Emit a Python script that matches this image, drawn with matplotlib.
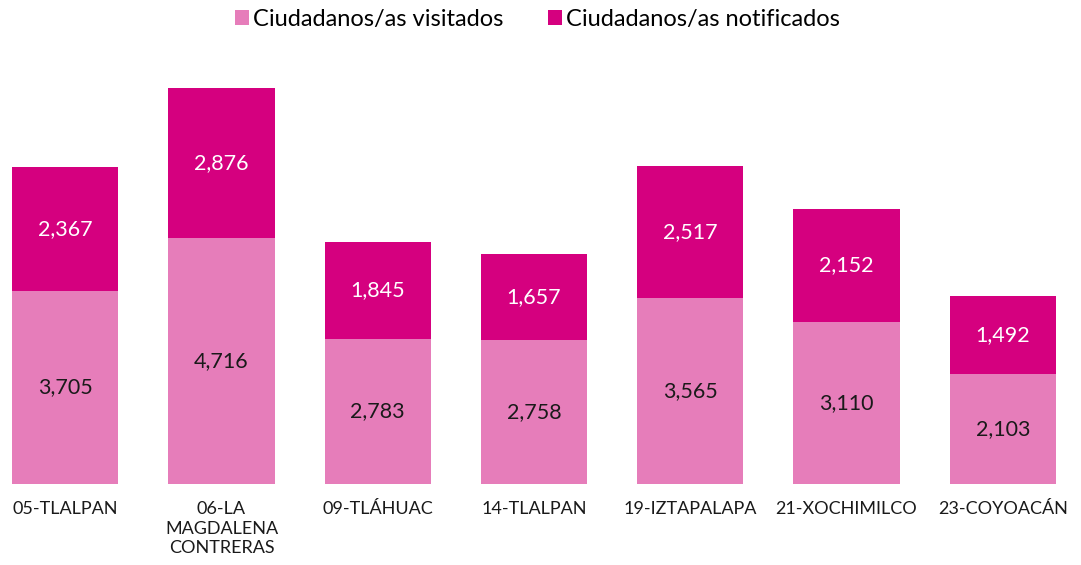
import numpy as np
import matplotlib.pyplot as plt

# datos
categorias = ["05-TLALPAN", "06-LA\nMAGDALENA\nCONTRERAS", "09-TLÁHUAC", "14-TLALPAN",
              "19-IZTAPALAPA", "21-XOCHIMILCO", "23-COYOACÁN"]
visitados = [3705, 4716, 2783, 2758, 3565, 3110, 2103]
notificados = [2367, 2876, 1845, 1657, 2517, 2152, 1492]

color_vis = "#E67DBA"
color_not = "#D5007F"

plt.rcParams["font.family"] = ["Lato", "DejaVu Sans"]

fig = plt.figure(figsize=(10.81, 5.65), dpi=100)
ax = fig.add_axes([0, 0.1434, 1, 0.75])

x = np.arange(len(categorias))
ancho = 0.68

b1 = ax.bar(x, visitados, ancho, color=color_vis, label="Ciudadanos/as visitados")
b2 = ax.bar(x, notificados, ancho, bottom=visitados, color=color_not,
            label="Ciudadanos/as notificados")

# etiquetas de valores
for xi, v, n in zip(x, visitados, notificados):
    ax.text(xi, v / 2, f"{v:,}", ha="center", va="center", fontsize=15.5, color="#1a1a1a")
    ax.text(xi, v + n / 2, f"{n:,}", ha="center", va="center", fontsize=15.5, color="white")

ax.set_xlim(-0.417, 6.5)
ax.set_ylim(0, 0.75 * 565 / 0.0522)

ax.set_xticks(x)
ax.set_xticklabels(categorias, fontsize=13, color="#1a1a1a", linespacing=1.3)
ax.tick_params(axis="x", length=0, pad=12)
ax.set_yticks([])
for s in ax.spines.values():
    s.set_visible(False)

fig.legend(loc="upper center", bbox_to_anchor=(0.497, 1.022), ncol=2, frameon=False,
           fontsize=17, handlelength=0.6, handleheight=0.6, handletextpad=0.15,
           columnspacing=1.9)

plt.savefig("out.png", dpi=100)
